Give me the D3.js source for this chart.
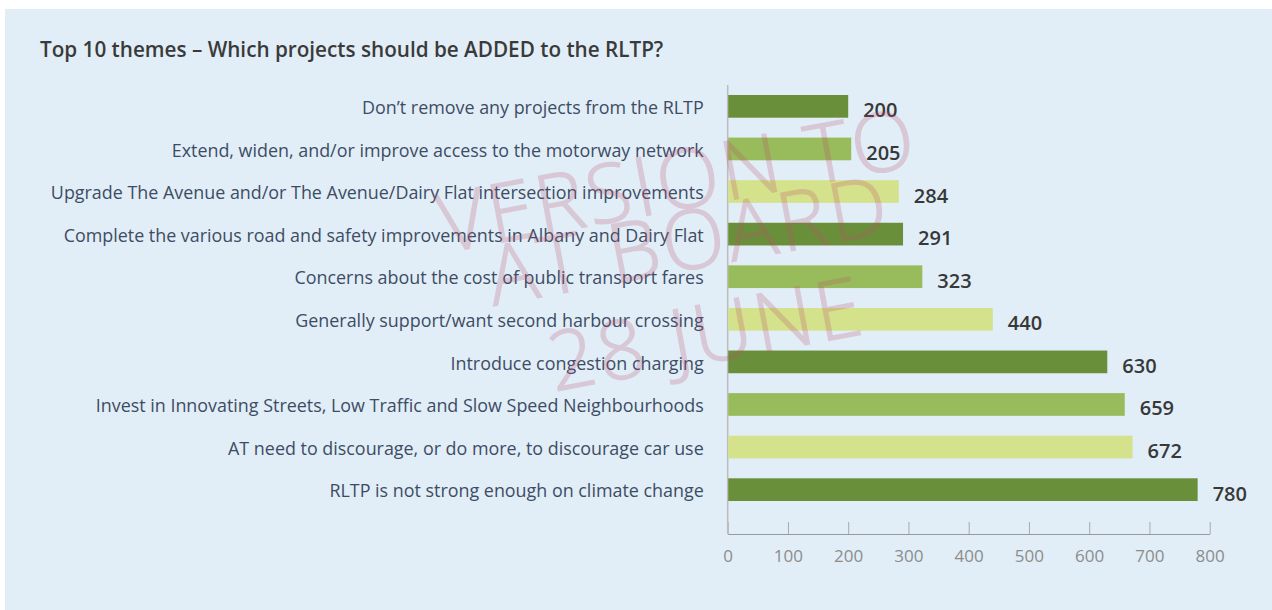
<!DOCTYPE html>
<html>
<head>
<meta charset="utf-8">
<script src="https://cdn.jsdelivr.net/npm/d3@7"></script>
<style>
    body { margin: 0; background: #ffffff; }
    svg { display: block; font-family: "Open Sans", sans-serif; }
    .catLabel text { fill: #3d4c64; font-size: 17.9px; }
    .xAxis text { fill: #8c8c8c; font-size: 17px; }
    .xAxis line { stroke: #a8a8a8; }
    .xAxis path { stroke: #9a9a9a; }
</style>
</head>
<body>
<script>
(function(){

    //chart data
    var themes = [
        "Don\u2019t remove any projects from the RLTP",
        "Extend, widen, and/or improve access to the motorway network",
        "Upgrade The Avenue and/or The Avenue/Dairy Flat intersection improvements",
        "Complete the various road and safety improvements in Albany and Dairy Flat",
        "Concerns about the cost of public transport fares",
        "Generally support/want second harbour crossing",
        "Introduce congestion charging",
        "Invest in Innovating Streets, Low Traffic and Slow Speed Neighbourhoods",
        "AT need to discourage, or do more, to discourage car use",
        "RLTP is not strong enough on climate change"
    ];
    var counts = [200, 205, 284, 291, 323, 440, 630, 659, 672, 780];
    var xTicks = [0, 100, 200, 300, 400, 500, 600, 700, 800];
    var barColors = ["#6a8f3b", "#98bb5b", "#d4e28b"];
    var watermark = ["VERSION TO", "AT BOARD", "28 JUNE"];

//begin script when window loads
window.onload = drawChart();

function drawChart(){

    var width = 1272,
        height = 610;

    var svg = d3.select("body")
        .append("svg")
        .attr("width", width)
        .attr("height", height);

    //light blue panel
    svg.append("rect")
        .attr("x", 5)
        .attr("y", 9)
        .attr("width", width - 5)
        .attr("height", height - 9)
        .attr("fill", "#e1eef7");

    //title
    svg.append("text")
        .attr("x", 40)
        .attr("y", 57)
        .attr("fill", "#3a3a3a")
        .attr("font-size", "20.7px")
        .attr("font-weight", 600)
        .text("Top 10 themes \u2013 Which projects should be ADDED to the RLTP?");

    //scales
    var x = d3.scaleLinear()
        .domain([0, 800])
        .range([727.7, 1209.7]);

    var y = d3.scaleBand()
        .domain(themes)
        .range([85, 511])
        .paddingInner(0.467)
        .paddingOuter(0.235);

    var axisY = 534;

    //x axis with upward ticks
    svg.append("g")
        .attr("class", "xAxis")
        .attr("transform", "translate(0," + axisY + ")")
        .call(d3.axisBottom(x)
            .tickValues(xTicks)
            .tickSizeInner(-12)
            .tickSizeOuter(0)
            .tickPadding(15.5))
        .call(function(g){ g.selectAll("text").attr("font-family", "Open Sans, sans-serif"); });

    //vertical axis line
    svg.append("line")
        .attr("x1", x(0))
        .attr("x2", x(0))
        .attr("y1", y.range()[0])
        .attr("y2", axisY)
        .attr("stroke", "#bcbcbc")
        .attr("stroke-width", 1.5);

    //category labels
    svg.append("g")
        .attr("class", "catLabel")
        .attr("transform", "translate(" + x(0) + ",2)")
        .call(d3.axisLeft(y).tickSize(0).tickPadding(24))
        .call(function(g){
            g.select(".domain").remove();
            g.selectAll("text").attr("font-family", "Open Sans, sans-serif");
        });

    //bars
    svg.selectAll(".bar")
        .data(counts)
        .enter()
        .append("rect")
        .attr("class", "bar")
        .attr("x", x(0) + 0.5)
        .attr("y", function(d, i){ return y(themes[i]); })
        .attr("width", function(d){ return x(d) - x(0) - 0.5; })
        .attr("height", y.bandwidth())
        .attr("fill", function(d, i){ return barColors[i % 3]; });

    //value labels
    svg.selectAll(".val")
        .data(counts)
        .enter()
        .append("text")
        .attr("class", "val")
        .attr("x", function(d){ return x(d) + 15; })
        .attr("y", function(d, i){ return y(themes[i]) + y.bandwidth() / 2 + 4; })
        .attr("dy", "0.35em")
        .attr("fill", "#383838")
        .attr("font-size", "20px")
        .attr("font-weight", 600)
        .text(function(d){ return d; });

    //draft watermark on top
    var wm = svg.append("g")
        .attr("transform", "translate(693,265) rotate(-10.5)")
        .attr("opacity", 0.24);

    var wmLines = [-57, 4, 99];
    wm.selectAll("text")
        .data(watermark)
        .enter()
        .append("text")
        .attr("x", 0)
        .attr("y", function(d, i){ return wmLines[i]; })
        .attr("text-anchor", "middle")
        .attr("font-size", "82px")
        .attr("font-weight", 300)
        .attr("letter-spacing", "3px")
        .attr("fill", "rgb(190,80,110)")
        .attr("stroke", "rgb(190,80,110)")
        .attr("stroke-width", 1.3)
        .text(function(d){ return d; });
};

})();
</script>
</body>
</html>
